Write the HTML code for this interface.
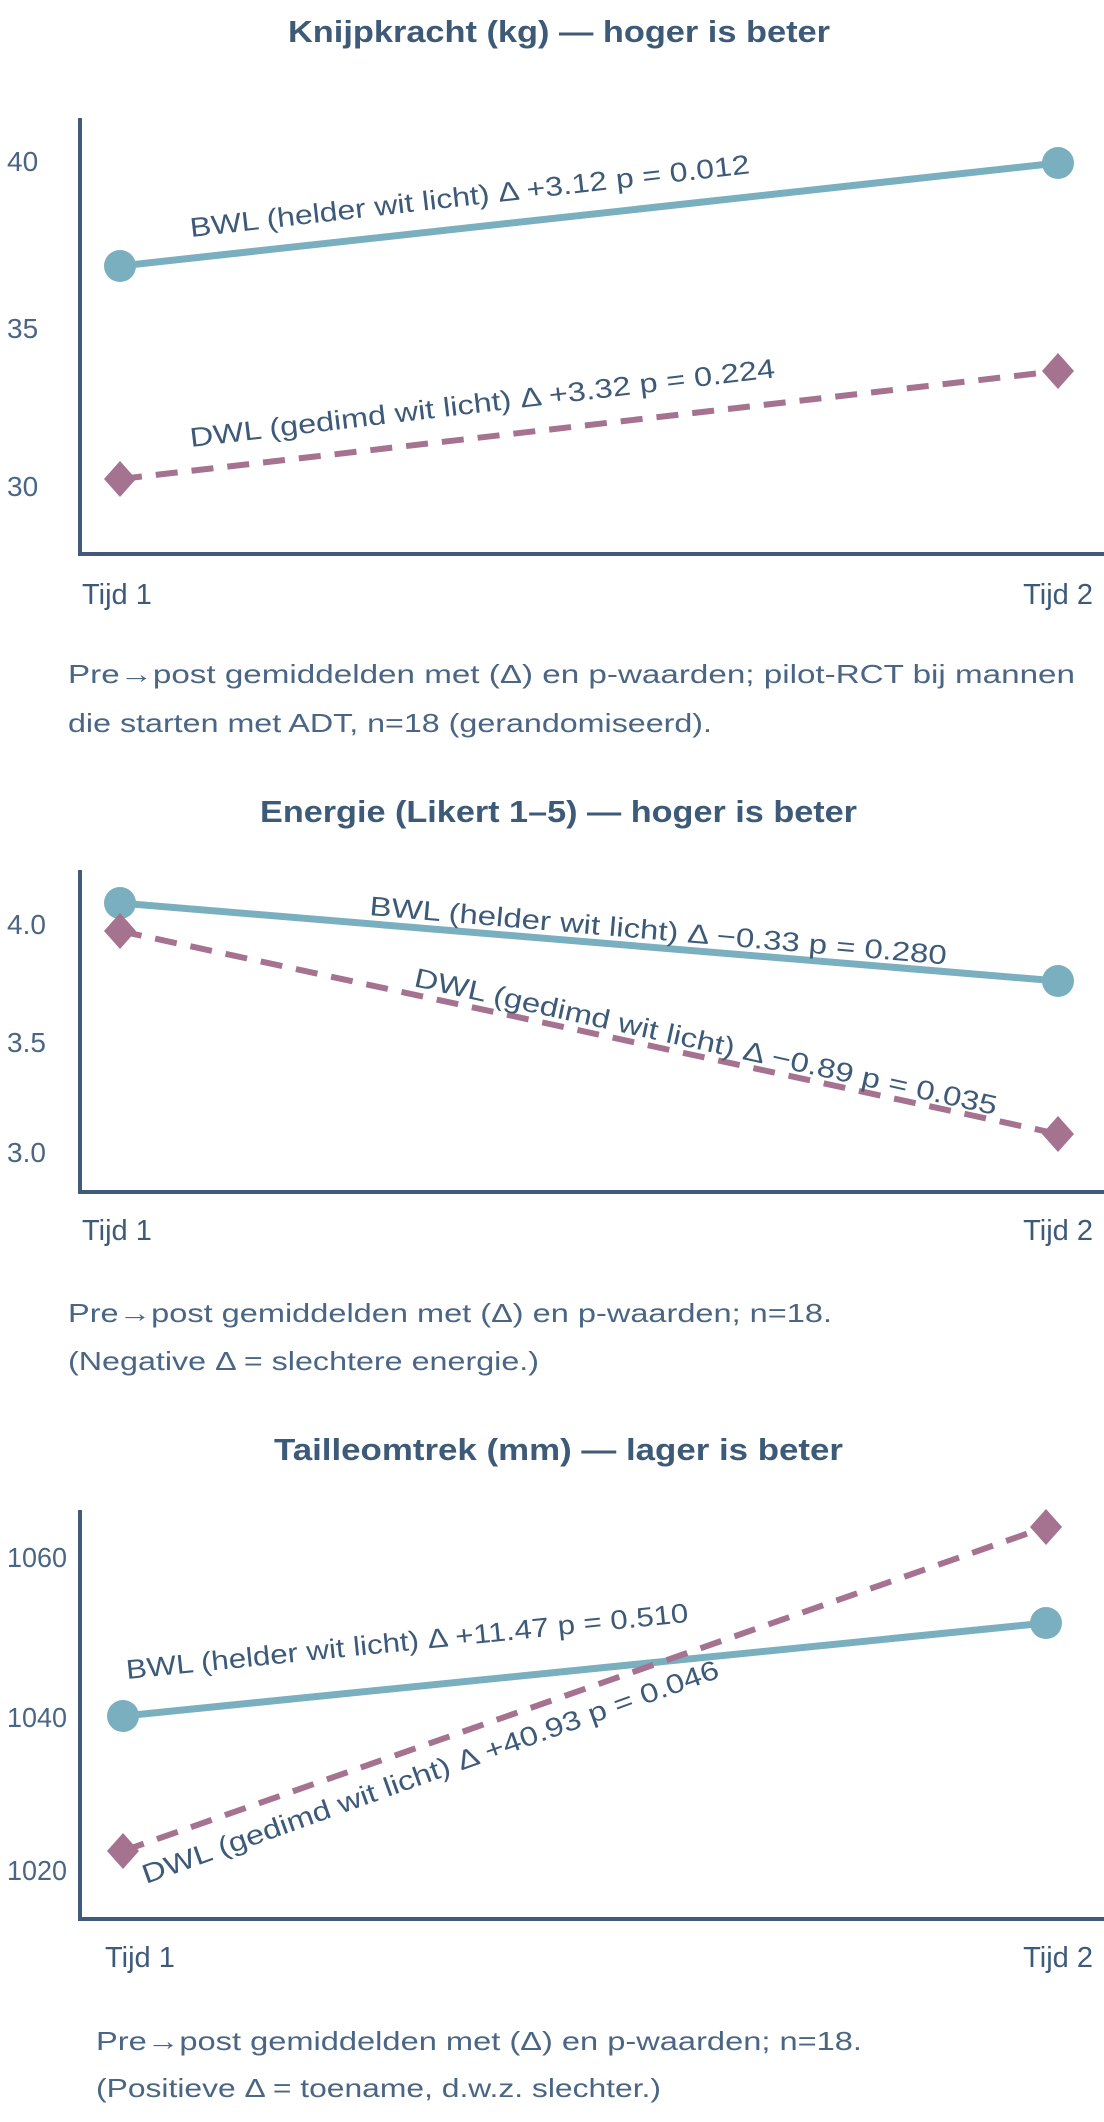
<!DOCTYPE html>
<html><head><meta charset="utf-8"><style>
html,body{margin:0;padding:0;background:#fff}
svg{display:block}
text{font-family:"Liberation Sans",sans-serif;fill:#3d5a78}
.t{font-weight:bold;font-size:31px}
.k{font-size:28px;fill:#4a6684}
.l{font-size:27px}
.x{font-size:29px}
.c{font-size:26px;fill:#4a6684}
</style></head><body>
<svg width="1104" height="2122" viewBox="0 0 1104 2122" xmlns="http://www.w3.org/2000/svg">
<!-- Chart 1 -->
<text class="t" x="288" y="42" textLength="542" lengthAdjust="spacingAndGlyphs">Knijpkracht (kg) — hoger is beter</text>
<path d="M80 118 V554 H1104" fill="none" stroke="#3f5a7a" stroke-width="4"/>
<text class="k" x="7" y="171">40</text>
<text class="k" x="7" y="338">35</text>
<text class="k" x="7" y="496">30</text>
<line x1="120" y1="266" x2="1058" y2="163" stroke="#7aafc0" stroke-width="7"/>
<line x1="120" y1="479" x2="1058" y2="371" stroke="#a5728f" stroke-width="6" stroke-dasharray="22,14"/>
<circle cx="120" cy="266" r="16" fill="#7aafc0"/>
<circle cx="1058" cy="163" r="16" fill="#7aafc0"/>
<polygon points="120,461 136,479 120,497 104,479" fill="#a5728f"/>
<polygon points="1058,353 1074,371 1058,389 1042,371" fill="#a5728f"/>
<text class="l" transform="translate(191,237) rotate(-6.5)" textLength="563" lengthAdjust="spacingAndGlyphs">BWL (helder wit licht)  Δ +3.12 p = 0.012</text>
<text class="l" transform="translate(191,447) rotate(-6.8)" textLength="589" lengthAdjust="spacingAndGlyphs">DWL (gedimd wit licht) Δ +3.32 p = 0.224</text>
<text class="x" x="82" y="604">Tijd 1</text>
<text class="x" x="1093" y="604" text-anchor="end">Tijd 2</text>
<text class="c" x="68" y="683" textLength="1007" lengthAdjust="spacingAndGlyphs">Pre→post gemiddelden met (Δ) en p-waarden; pilot-RCT bij mannen</text>
<text class="c" x="68" y="732" textLength="644" lengthAdjust="spacingAndGlyphs">die starten met ADT, n=18 (gerandomiseerd).</text>

<!-- Chart 2 -->
<text class="t" x="260" y="822" textLength="597" lengthAdjust="spacingAndGlyphs">Energie (Likert 1–5) — hoger is beter</text>
<path d="M80 870 V1192 H1104" fill="none" stroke="#3f5a7a" stroke-width="4"/>
<text class="k" x="7" y="934">4.0</text>
<text class="k" x="7" y="1052">3.5</text>
<text class="k" x="7" y="1162">3.0</text>
<line x1="120" y1="903" x2="1058" y2="981" stroke="#7aafc0" stroke-width="7"/>
<line x1="120" y1="931" x2="1058" y2="1134" stroke="#a5728f" stroke-width="6" stroke-dasharray="22,14"/>
<circle cx="120" cy="903" r="16" fill="#7aafc0"/>
<circle cx="1058" cy="981" r="16" fill="#7aafc0"/>
<polygon points="120,913 136,931 120,949 104,931" fill="#a5728f"/>
<polygon points="1058,1116 1074,1134 1058,1152 1042,1134" fill="#a5728f"/>
<text class="l" transform="translate(369,915) rotate(4.9)" textLength="579" lengthAdjust="spacingAndGlyphs">BWL (helder wit licht)  Δ −0.33 p = 0.280</text>
<text class="l" transform="translate(413,986) rotate(12.5)" textLength="596" lengthAdjust="spacingAndGlyphs">DWL (gedimd wit licht) Δ −0.89 p = 0.035</text>
<text class="x" x="82" y="1240">Tijd 1</text>
<text class="x" x="1093" y="1240" text-anchor="end">Tijd 2</text>
<text class="c" x="68" y="1322" textLength="764" lengthAdjust="spacingAndGlyphs">Pre→post gemiddelden met (Δ) en p-waarden; n=18.</text>
<text class="c" x="68" y="1370" textLength="471" lengthAdjust="spacingAndGlyphs">(Negative Δ = slechtere energie.)</text>

<!-- Chart 3 -->
<text class="t" x="274" y="1460" textLength="569" lengthAdjust="spacingAndGlyphs">Tailleomtrek (mm) — lager is beter</text>
<path d="M80 1510 V1919 H1104" fill="none" stroke="#3f5a7a" stroke-width="4"/>
<text class="k" x="7" y="1567" font-size="26" textLength="60" lengthAdjust="spacingAndGlyphs">1060</text>
<text class="k" x="7" y="1727" font-size="26" textLength="60" lengthAdjust="spacingAndGlyphs">1040</text>
<text class="k" x="7" y="1880" font-size="26" textLength="60" lengthAdjust="spacingAndGlyphs">1020</text>
<line x1="123" y1="1716" x2="1046" y2="1623" stroke="#7aafc0" stroke-width="7"/>
<line x1="123" y1="1851" x2="1046" y2="1527" stroke="#a5728f" stroke-width="6" stroke-dasharray="22,14"/>
<circle cx="123" cy="1716" r="16" fill="#7aafc0"/>
<circle cx="1046" cy="1623" r="16" fill="#7aafc0"/>
<polygon points="123,1833 139,1851 123,1869 107,1851" fill="#a5728f"/>
<polygon points="1046,1509 1062,1527 1046,1545 1030,1527" fill="#a5728f"/>
<text class="l" transform="translate(127,1679) rotate(-5.8)" textLength="565" lengthAdjust="spacingAndGlyphs">BWL (helder wit licht) Δ +11.47 p = 0.510</text>
<text class="l" transform="translate(146,1884) rotate(-19.8)" textLength="611" lengthAdjust="spacingAndGlyphs">DWL (gedimd wit licht) Δ +40.93 p = 0.046</text>
<text class="x" x="105" y="1967">Tijd 1</text>
<text class="x" x="1093" y="1967" text-anchor="end">Tijd 2</text>
<text class="c" x="96" y="2050" textLength="766" lengthAdjust="spacingAndGlyphs">Pre→post gemiddelden met (Δ) en p-waarden; n=18.</text>
<text class="c" x="96" y="2097" textLength="565" lengthAdjust="spacingAndGlyphs">(Positieve Δ = toename, d.w.z. slechter.)</text>
</svg>
</body></html>
